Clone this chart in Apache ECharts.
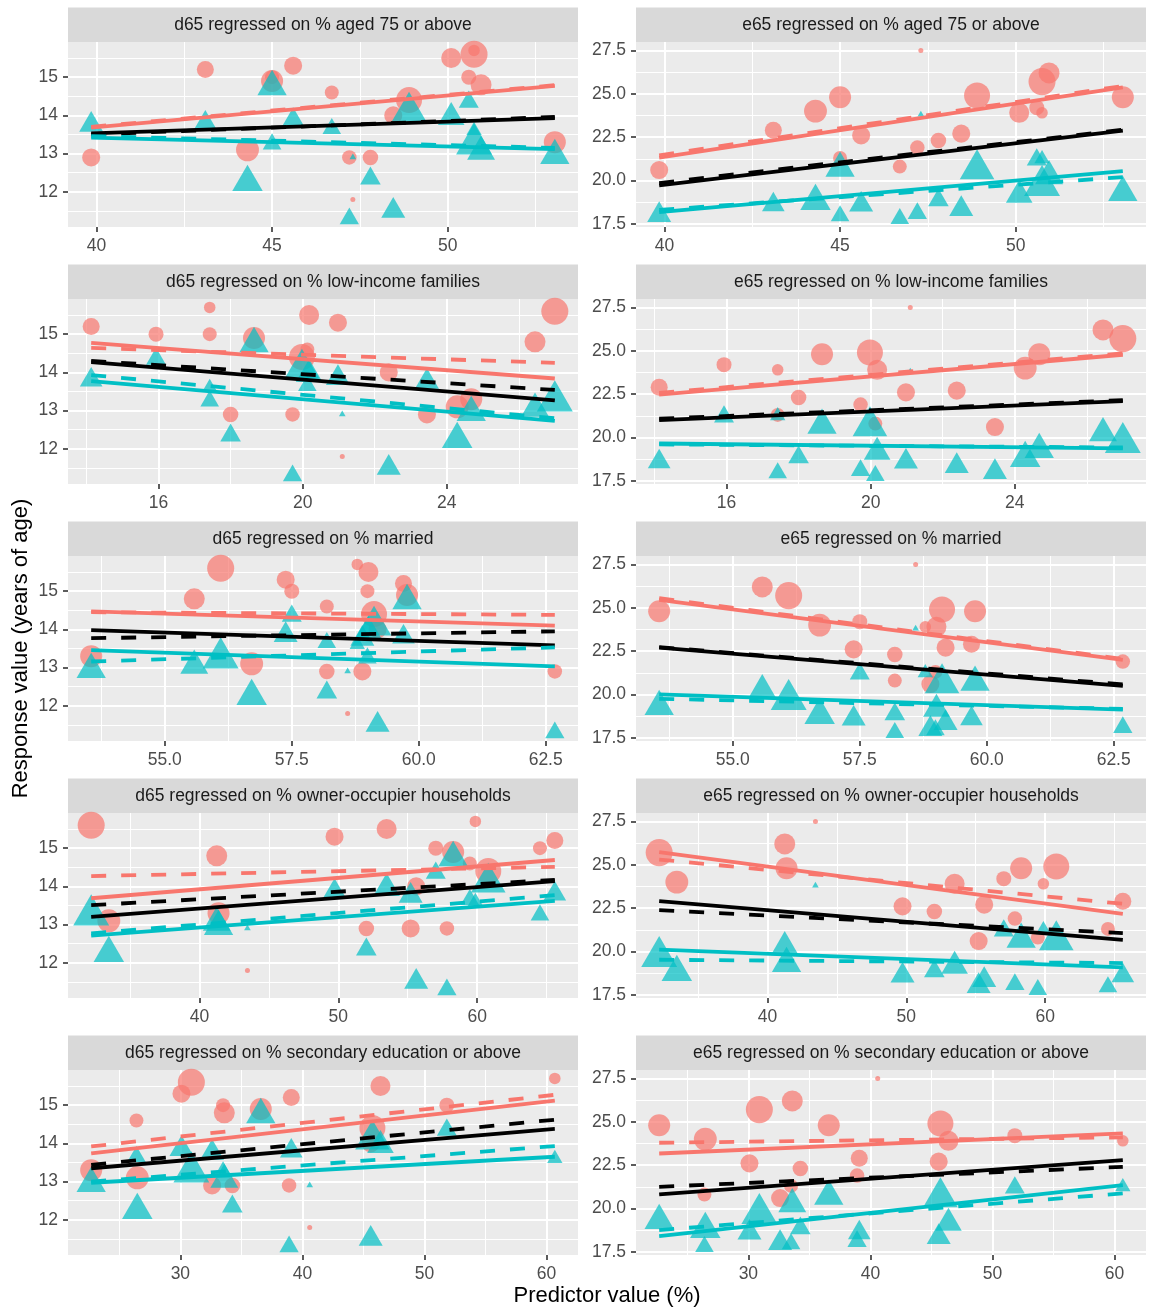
<!DOCTYPE html>
<html>
<head>
<meta charset="utf-8">
<title>d65 / e65 regressions</title>
<script src="https://cdn.jsdelivr.net/npm/echarts@6/dist/echarts.min.js"></script>
<style>
  html, body { margin: 0; padding: 0; background: #fff; }
  #chart { width: 1154px; height: 1308px; }
</style>
</head>
<body>
<div id="chart"></div>
<script>
// one entry per district, same order in every array
const weight = [11.6, 9, 5.3, 7.8, 9.6, 19.4, 8.4, 27, 7.8, 16, 13, 1, 13, 13, 21, 19.4, 17.6, 29.2];

const d65Female = [15.2, 15.0, 15.7, 15.0, 12.9, 14.9, 12.9, 14.4, 14.6, 15.5, 15.3, 11.8, 14.0, 12.9, 13.1, 13.3, 14.8, 15.6];
const d65Male = [13.8, 14.35, 13.6, 13.25, 12.35, 14.75, 11.3, 14.1, 13.65, 13.95, 13.85, 12.9, 11.5, 13.75, 12.25, 12.95, 13.05, 13.25];
const e65Female = [22.9, 24.2, 23.9, 21.3, 22.3, 24.8, 21.9, 24.9, 20.8, 23.9, 22.6, 27.5, 22.7, 20.6, 24.0, 24.8, 26.2, 25.7];
const e65Male = [18.6, 21.2, 21.25, 17.95, 18.85, 20.7, 18.1, 20.65, 17.8, 19.15, 18.6, 23.8, 18.35, 18.0, 18.8, 19.3, 20.25, 19.7];

const pctAged75 = [43.1, 50.6, 50.75, 45.0, 47.8, 45.0, 47.2, 48.9, 46.7, 50.1, 45.6, 47.3, 48.45, 39.85, 44.3, 53.05, 50.95, 50.75];
const pctLowIncome = [14.13, 15.93, 17.42, 17.42, 18.0, 18.65, 19.72, 19.98, 20.13, 20.18, 20.98, 21.1, 22.39, 23.45, 24.29, 24.68, 26.45, 27.0];
const pctMarried = [59.7, 57.5, 58.79, 58.99, 58.19, 59.77, 62.68, 59.12, 58.19, 59.01, 57.38, 58.6, 59.19, 58.89, 56.71, 53.55, 55.58, 56.1];
const pctOwner = [65.59, 57.02, 59.87, 64.52, 52.02, 58.27, 57.82, 60.8, 59.47, 53.48, 49.73, 43.46, 55.61, 55.21, 33.48, 41.38, 41.25, 32.21];
const pctSecondary = [39.09, 51.84, 60.69, 33.5, 34.26, 36.59, 38.91, 45.74, 26.4, 46.4, 30.09, 40.6, 45.6, 32.6, 26.47, 22.69, 33.6, 30.9];

// tick labels
const xTicksAged75 = [40, 45, 50];
const xTicksLowIncome = [16, 20, 24];
const xTicksMarried = [55, 57.5, 60, 62.5];
const xTicksOwner = [40, 50, 60];
const xTicksSecondary = [30, 40, 50, 60];
const yTicksD65 = [12, 13, 14, 15];
const yTicksE65 = [17.5, 20, 22.5, 25, 27.5];

// fitted lines, y at lowest and highest x:
// female solid, female dashed, all solid, all dashed, male solid, male dashed
const fitD65Aged75 = [[13.68, 14.77], [13.7, 14.79], [13.53, 13.93], [13.5, 13.96], [13.42, 13.12], [13.46, 13.15]];
const fitD65LowIncome = [[14.77, 13.84], [14.64, 14.25], [14.27, 13.27], [14.3, 13.54], [13.77, 12.73], [13.93, 12.8]];
const fitD65Married = [[14.47, 14.1], [14.45, 14.38], [13.98, 13.58], [13.77, 13.95], [13.46, 13.03], [13.16, 13.53]];
const fitD65Owner = [[13.69, 14.69], [14.27, 14.51], [13.2, 14.14], [13.51, 14.17], [12.71, 13.62], [12.77, 13.77]];
const fitD65Secondary = [[13.74, 15.12], [13.92, 15.27], [13.35, 14.38], [13.44, 14.62], [12.97, 13.65], [13.0, 13.93]];
const fitE65Aged75 = [[21.32, 25.37], [21.45, 25.45], [19.71, 22.88], [19.85, 22.92], [18.17, 20.54], [18.3, 20.19]];
const fitE65LowIncome = [[22.47, 24.77], [22.57, 24.85], [21.0, 22.1], [21.08, 22.15], [19.65, 19.37], [19.6, 19.42]];
const fitE65Married = [[25.45, 21.99], [25.55, 22.05], [22.7, 20.5], [22.73, 20.58], [20.0, 19.13], [19.75, 19.17]];
const fitE65Owner = [[25.73, 22.17], [25.3, 22.75], [22.9, 20.67], [22.38, 21.06], [20.1, 19.08], [19.52, 19.33]];
const fitE65Secondary = [[23.17, 24.33], [23.79, 24.1], [20.81, 22.79], [21.25, 22.4], [18.4, 21.35], [18.75, 20.87]];

const predictors = [
    { label: '% aged 75 or above', x: pctAged75, ticks: xTicksAged75, fits: [fitD65Aged75, fitE65Aged75] },
    { label: '% low-income families', x: pctLowIncome, ticks: xTicksLowIncome, fits: [fitD65LowIncome, fitE65LowIncome] },
    { label: '% married', x: pctMarried, ticks: xTicksMarried, fits: [fitD65Married, fitE65Married] },
    { label: '% owner-occupier households', x: pctOwner, ticks: xTicksOwner, fits: [fitD65Owner, fitE65Owner] },
    { label: '% secondary education or above', x: pctSecondary, ticks: xTicksSecondary, fits: [fitD65Secondary, fitE65Secondary] }
];
const responses = [
    { label: 'd65', female: d65Female, male: d65Male, ticks: yTicksD65 },
    { label: 'e65', female: e65Female, male: e65Male, ticks: yTicksE65 }
];

const RED = '#F8766D';
const CYAN = '#00BFC4';
const FONT = 'Liberation Sans, Arial, sans-serif';
const colLeft = [68, 636];
const rowTop = [42, 299, 556, 813, 1070];
const plotW = 510, plotH = 185, stripH = 34.5;

// ggplot-like 5% expansion
function expand(vals) {
    const lo = Math.min(...vals), hi = Math.max(...vals);
    const pad = (hi - lo) * 0.05;
    return [lo - pad, hi + pad];
}
// minor grid lines halfway between breaks
function minorBreaks(ticks, range) {
    const step = ticks[1] - ticks[0];
    const ext = [ticks[0] - step, ...ticks, ticks[ticks.length - 1] + step];
    const out = [];
    for (let i = 0; i < ext.length - 1; i++) {
        const m = (ext[i] + ext[i + 1]) / 2;
        if (m > range[0] && m < range[1]) out.push(m);
    }
    return out;
}
function labelFormatter(ticks) {
    const dec = ticks.some(t => !Number.isInteger(t)) ? 1 : 0;
    return v => Number(v).toFixed(dec);
}
const diameter = w => 5 * Math.sqrt(w);

const grids = [], xAxes = [], yAxes = [], series = [], graphics = [];

predictors.forEach((pred, r) => {
    responses.forEach((resp, c) => {
        const idx = grids.length;
        const left = colLeft[c], top = rowTop[r];
        const xRange = expand(pred.x);
        const yRange = expand([...resp.female, ...resp.male]);

        grids.push({
            left: left, top: top, width: plotW, height: plotH,
            show: true, backgroundColor: '#EBEBEB', borderWidth: 0
        });

        const axisCommon = {
            type: 'value',
            gridIndex: idx,
            axisLine: { show: false },
            splitLine: { show: false },
            axisTick: { show: true, length: 5, lineStyle: { color: '#333333', width: 1.6 } },
            axisLabel: { color: '#4D4D4D', fontSize: 17.5, fontFamily: FONT, margin: 10 }
        };
        xAxes.push(Object.assign({}, axisCommon, {
            min: xRange[0], max: xRange[1],
            axisTick: Object.assign({}, axisCommon.axisTick, { customValues: pred.ticks }),
            axisLabel: Object.assign({}, axisCommon.axisLabel, {
                customValues: pred.ticks, formatter: labelFormatter(pred.ticks)
            })
        }));
        yAxes.push(Object.assign({}, axisCommon, {
            min: yRange[0], max: yRange[1],
            axisTick: Object.assign({}, axisCommon.axisTick, { customValues: resp.ticks }),
            axisLabel: Object.assign({}, axisCommon.axisLabel, {
                customValues: resp.ticks, formatter: labelFormatter(resp.ticks)
            })
        }));

        // panel grid lines
        const gridLines = [];
        minorBreaks(pred.ticks, xRange).forEach(v => gridLines.push({ xAxis: v, lineStyle: { width: 1.05 } }));
        minorBreaks(resp.ticks, yRange).forEach(v => gridLines.push({ yAxis: v, lineStyle: { width: 1.05 } }));
        pred.ticks.forEach(v => gridLines.push({ xAxis: v, lineStyle: { width: 2.1 } }));
        resp.ticks.forEach(v => gridLines.push({ yAxis: v, lineStyle: { width: 2.1 } }));

        series.push({
            type: 'scatter',
            xAxisIndex: idx, yAxisIndex: idx,
            symbol: 'circle',
            data: pred.x.map((xv, i) => ({ value: [xv, resp.female[i]], symbolSize: diameter(weight[i]) })),
            itemStyle: { color: RED, opacity: 0.7 },
            emphasis: { disabled: true },
            silent: true,
            z: 3,
            markLine: {
                z: 1,
                silent: true,
                symbol: ['none', 'none'],
                label: { show: false },
                emphasis: { disabled: true },
                lineStyle: { color: '#FFFFFF', type: 'solid' },
                data: gridLines
            }
        });
        series.push({
            type: 'scatter',
            xAxisIndex: idx, yAxisIndex: idx,
            symbol: 'triangle',
            symbolOffset: [0, '-16.7%'],
            data: pred.x.map((xv, i) => {
                const d = diameter(weight[i]);
                return { value: [xv, resp.male[i]], symbolSize: [1.33 * d, 1.15 * d] };
            }),
            itemStyle: { color: CYAN, opacity: 0.7 },
            emphasis: { disabled: true },
            silent: true,
            z: 3
        });

        // fitted lines
        const xLo = Math.min(...pred.x), xHi = Math.max(...pred.x);
        const lineColors = [RED, RED, '#000000', '#000000', CYAN, CYAN];
        pred.fits[c].forEach((ends, k) => {
            series.push({
                type: 'line',
                xAxisIndex: idx, yAxisIndex: idx,
                data: [[xLo, ends[0]], [xHi, ends[1]]],
                symbol: 'none',
                silent: true,
                z: 4,
                emphasis: { disabled: true },
                lineStyle: {
                    color: lineColors[k],
                    width: 3.8,
                    type: k % 2 === 0 ? 'solid' : [15, 15]
                }
            });
        });

        // strip
        graphics.push({
            type: 'rect',
            shape: { x: left, y: top - stripH, width: plotW, height: stripH },
            style: { fill: '#D9D9D9' },
            silent: true
        });
        graphics.push({
            type: 'text',
            x: left + plotW / 2, y: top - stripH / 2,
            style: {
                text: resp.label + ' regressed on ' + pred.label,
                fill: '#1A1A1A', fontSize: 17.5, fontFamily: FONT,
                align: 'center', verticalAlign: 'middle'
            },
            silent: true
        });
    });
});

// axis titles
graphics.push({
    type: 'text',
    x: (colLeft[0] + colLeft[1] + plotW) / 2, y: 1296,
    style: {
        text: 'Predictor value (%)', fill: '#000000', fontSize: 22, fontFamily: FONT,
        align: 'center', verticalAlign: 'middle'
    },
    silent: true
});
graphics.push({
    type: 'text',
    x: 21, y: (rowTop[0] + rowTop[4] + plotH) / 2,
    rotation: Math.PI / 2,
    style: {
        text: 'Response value (years of age)', fill: '#000000', fontSize: 22, fontFamily: FONT,
        align: 'center', verticalAlign: 'middle'
    },
    silent: true
});

const chart = echarts.init(document.getElementById('chart'));
chart.setOption({
    animation: false,
    backgroundColor: '#FFFFFF',
    grid: grids,
    xAxis: xAxes,
    yAxis: yAxes,
    series: series,
    graphic: { elements: graphics }
});
</script>
</body>
</html>
